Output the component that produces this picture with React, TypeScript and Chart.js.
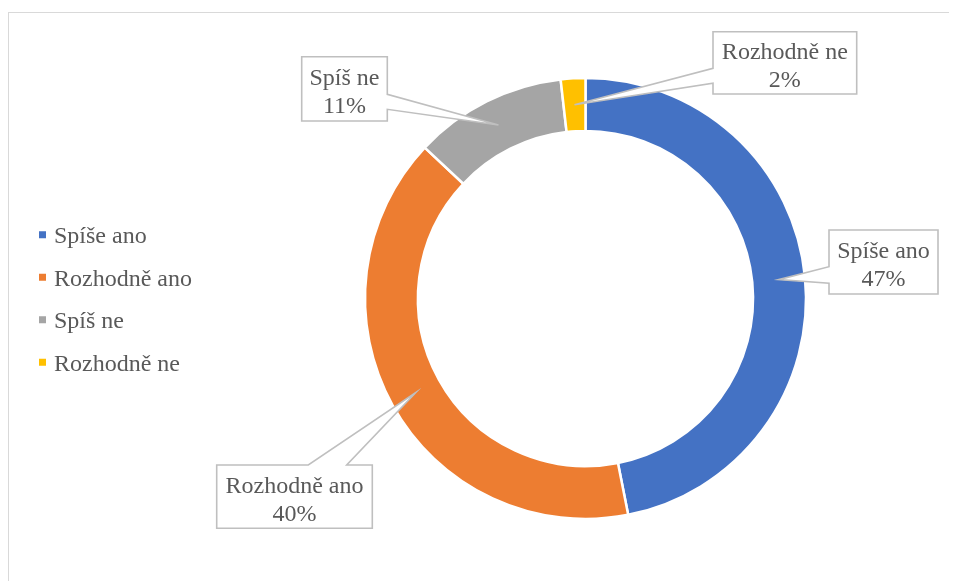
import React, { useEffect, useRef } from "react";
import { Chart, registerables } from "chart.js";

Chart.register(...registerables);

const categories = ["Spíše ano", "Rozhodně ano", "Spíš ne", "Rozhodně ne"];
const values = [46.9, 40.1, 11.2, 1.8];
const percentLabels = ["47%", "40%", "11%", "2%"];
const colors = ["#4472C4", "#ED7D31", "#A5A5A5", "#FFC000"];

const FONT = '"Liberation Serif", "Times New Roman", serif';
const TEXT_COLOR = "#595959";

// callout boxes, relative to the doughnut centre
const callouts = [
  { dx: 243.5, dy: -68.5, w: 109, h: 64, side: "left", a: 36.7, b: 53.3 },
  { dx: -368.8, dy: 166.5, w: 155.6, h: 63.3, side: "top", a: 91.6, b: 130 },
  { dx: -283.8, dy: -241.8, w: 85.6, h: 64.3, side: "right", a: 37.6, b: 52.6 },
  { dx: 127.5, dy: -266.8, w: 143.7, h: 62.3, side: "left", a: 36.6, b: 51.6 },
];

const calloutPlugin = {
  id: "callouts",
  afterDatasetsDraw(chart: any) {
    const ctx = chart.ctx;
    const meta = chart.getDatasetMeta(0);
    if (!meta.data.length) return;
    const cx = meta.data[0].x;
    const cy = meta.data[0].y;
    ctx.save();
    meta.data.forEach((arc: any, i: number) => {
      const tip = arc.getCenterPoint();
      const c = callouts[i];
      const x = cx + c.dx;
      const y = cy + c.dy;
      ctx.beginPath();
      ctx.moveTo(x, y);
      if (c.side === "top") {
        ctx.lineTo(x + c.a, y);
        ctx.lineTo(tip.x, tip.y);
        ctx.lineTo(x + c.b, y);
      }
      ctx.lineTo(x + c.w, y);
      if (c.side === "right") {
        ctx.lineTo(x + c.w, y + c.a);
        ctx.lineTo(tip.x, tip.y);
        ctx.lineTo(x + c.w, y + c.b);
      }
      ctx.lineTo(x + c.w, y + c.h);
      ctx.lineTo(x, y + c.h);
      if (c.side === "left") {
        ctx.lineTo(x, y + c.b);
        ctx.lineTo(tip.x, tip.y);
        ctx.lineTo(x, y + c.a);
      }
      ctx.closePath();
      ctx.fillStyle = "#ffffff";
      ctx.fill();
      ctx.lineWidth = 1.6;
      ctx.strokeStyle = "#bfbfbf";
      ctx.lineJoin = "miter";
      ctx.stroke();

      ctx.fillStyle = TEXT_COLOR;
      ctx.font = `24px ${FONT}`;
      ctx.textAlign = "center";
      ctx.textBaseline = "alphabetic";
      const mx = x + c.w / 2;
      const my = y + c.h / 2;
      ctx.fillText(chart.data.labels[i], mx, my - 4);
      ctx.fillText(percentLabels[i], mx, my + 24);
    });

    // legend
    ctx.font = `24px ${FONT}`;
    ctx.textAlign = "left";
    ctx.textBaseline = "alphabetic";
    chart.data.labels.forEach((lab: string, i: number) => {
      const yc = cy - 63.75 + i * 42.5;
      ctx.fillStyle = chart.data.datasets[0].backgroundColor[i];
      ctx.fillRect(31, yc - 3.5, 7, 7);
      ctx.fillStyle = TEXT_COLOR;
      ctx.fillText(lab, 46, yc + 8.5);
    });
    ctx.restore();
  },
};

export default function App() {
  const ref = useRef<HTMLCanvasElement | null>(null);
  useEffect(() => {
    if (!ref.current) return;
    const chart = new Chart(ref.current, {
      type: "doughnut",
      data: {
        labels: categories,
        datasets: [
          {
            data: values,
            backgroundColor: colors,
            borderColor: "#ffffff",
            borderWidth: 2.5,
            hoverOffset: 0,
          },
        ],
      },
      options: {
        animation: false,
        responsive: true,
        maintainAspectRatio: false,
        events: [],
        radius: 220.5,
        cutout: "76%",
        layout: { padding: { left: 256, right: 50, top: 58, bottom: 50 } },
        plugins: {
          legend: { display: false },
          tooltip: { enabled: false },
          title: { display: false },
        },
      } as any,
      plugins: [calloutPlugin],
    });
    return () => chart.destroy();
  }, []);

  return (
    <div style={{ position: "relative", width: 949, height: 573 }}>
      <div
        style={{
          position: "absolute",
          left: 0,
          top: 4,
          right: 0,
          bottom: 0,
          borderTop: "1px solid #d9d9d9",
          borderLeft: "1px solid #d9d9d9",
        }}
      />
      <div style={{ position: "absolute", left: 0, top: 0, width: 949, height: 573 }}>
        <canvas ref={ref} />
      </div>
    </div>
  );
}
